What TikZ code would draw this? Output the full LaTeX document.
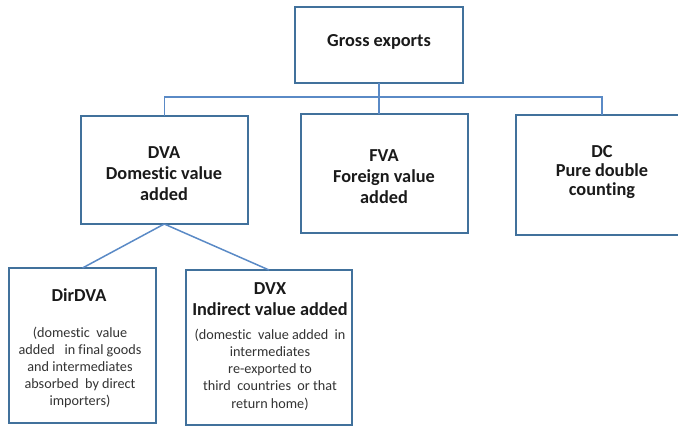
\documentclass[tikz,border=0pt]{standalone}
\usepackage{fontspec}
\setmainfont[Ligatures=NoCommon]{Carlito}
\definecolor{boxc}{HTML}{41719C}
\definecolor{linec}{HTML}{5A8AC6}
\definecolor{txtc}{HTML}{1A1A1A}
\definecolor{smallc}{HTML}{333333}
\begin{document}
\begin{tikzpicture}[x=1pt,y=-1pt,
  box/.style={draw=boxc, line width=2pt, fill=white, inner sep=0pt, outer sep=0pt},
  conn/.style={draw=linec, line width=1.5pt},
  head/.style={align=center, text=txtc, font=\bfseries\fontsize{18.3}{21}\selectfont, inner sep=0pt},
  body/.style={align=center, text=smallc, font=\fontsize{14.2}{17.2}\selectfont, inner sep=0pt}]
\useasboundingbox (0,0) rectangle (678,427);
\begin{scope}
\clip (0,0) rectangle (678,427);
% boxes
\node[box, minimum width=168pt, minimum height=76pt] (ge) at (379,45) {};
\node[box, minimum width=166.5pt, minimum height=108pt] (dva) at (164.25,170) {};
\node[box, minimum width=167pt, minimum height=119pt] (fva) at (384.5,173.5) {};
\node[box, minimum width=172pt, minimum height=120pt] (dc) at (602,175) {};
\node[box, minimum width=147pt, minimum height=155pt] (dirdva) at (82.5,345.5) {};
\node[box, minimum width=166pt, minimum height=155pt] (dvx) at (269,347.5) {};
% connectors
\draw[conn] (ge.south) -- (ge.south |- fva.north);
\draw[conn] (dva.north) -- ++(0,-19) -| (dc.north);
\draw[conn] (dva.south) -- (dirdva.north);
\draw[conn] (dva.south) -- (dvx.north);
\end{scope}
% texts
\node[head] (tge) at (379,42) {Gross exports};
\node[head] (tdva) at (164,174) {DVA\\Domestic value\\added};
\node[head] (tfva) at (384,177) {FVA\\Foreign value\\added};
\node[head, font=\bfseries\fontsize{18.3}{19}\selectfont] (tdc) at (602,172) {DC\\Pure double\\counting};
\node[head] (tdir) at (79,295) {DirDVA};
\node[body] (bdir) at (80,367.5) {(domestic\ \ value\\added\ \ \ in final goods\\and intermediates\\absorbed\ \ by direct\\importers)};
\node[head] (tdvx) at (270,299.5) {DVX\\Indirect value added};
\node[body] (bdvx) at (270,369.5) {(domestic\ \ value added\ \ in\\intermediates\\re-exported to\\third\ \ countries\ \ or that\\return home)};
\end{tikzpicture}
\end{document}
